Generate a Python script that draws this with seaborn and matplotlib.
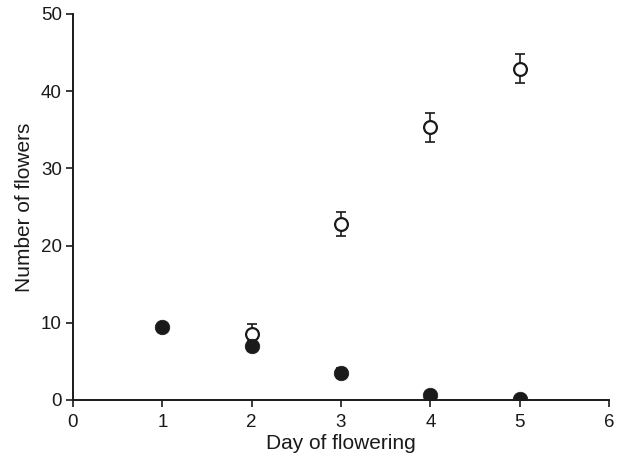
import matplotlib
matplotlib.use("Agg")
import matplotlib.pyplot as plt
import seaborn as sns
import pandas as pd

days = [1, 2, 3, 4, 5]
filled_mean = [9.5, 7.0, 3.5, 0.7, 0.1]
filled_err = [0.3, 0.7, 0.7, 0.3, 0.2]
open_days = [2, 3, 4, 5]
open_mean = [8.6, 22.8, 35.3, 42.9]
open_err = [1.2, 1.6, 1.9, 1.9]

sns.set_style("ticks")
plt.rcParams['font.family'] = ['Liberation Sans', 'DejaVu Sans']

fig = plt.figure(figsize=(6.26, 4.57), dpi=100)
ax = fig.add_axes([73/626, 57/457, 536/626, 386/457])

df_f = pd.DataFrame({"day": days, "n": filled_mean})
df_o = pd.DataFrame({"day": open_days, "n": open_mean})

ax.errorbar(open_days, open_mean, yerr=open_err, fmt='none', ecolor='#1a1a1a',
            elinewidth=1.2, capsize=3.3, capthick=1.2, zorder=2)
ax.errorbar(days, filled_mean, yerr=filled_err, fmt='none', ecolor='#1a1a1a',
            elinewidth=1.2, capsize=3.3, capthick=1.2, zorder=2)
sns.scatterplot(data=df_o, x="day", y="n", ax=ax, s=85, marker='o',
                facecolor='white', edgecolor='#1a1a1a', linewidth=1.6, zorder=3)
sns.scatterplot(data=df_f, x="day", y="n", ax=ax, s=110, marker='o',
                color='#1a1a1a', edgecolor='#1a1a1a', linewidth=0.5, zorder=4)

ax.set_xlim(0, 6)
ax.set_ylim(0, 50)
ax.set_xticks(range(0, 7))
ax.set_yticks(range(0, 51, 10))
ax.set_xlabel("Day of flowering", fontsize=15, color='#1a1a1a', labelpad=2)
ax.set_ylabel("Number of flowers", fontsize=15, color='#1a1a1a', labelpad=5)
ax.tick_params(axis='both', labelsize=13.5, colors='#1a1a1a', length=5, width=1.2, direction='out')
ax.tick_params(axis='x', pad=5)
ax.tick_params(axis='y', pad=3)
for sp in ['left', 'bottom']:
    ax.spines[sp].set_linewidth(1.4)
    ax.spines[sp].set_color('#1a1a1a')
sns.despine(ax=ax)
fig.savefig("out.png", dpi=100)
